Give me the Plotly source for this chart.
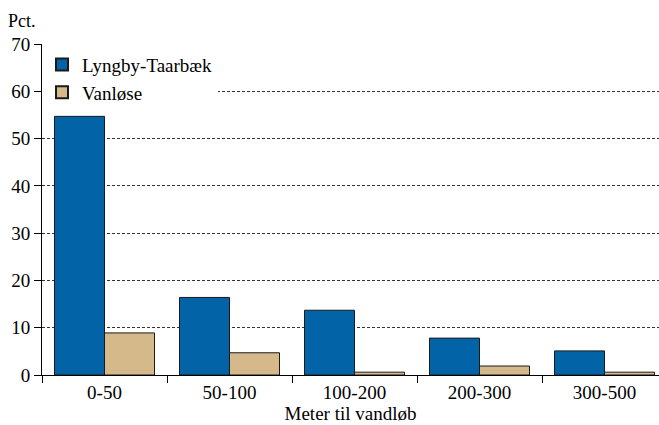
import plotly.graph_objects as go

categories = ["0-50", "50-100", "100-200", "200-300", "300-500"]
lyngby = [54.7, 16.4, 13.7, 7.8, 5.1]
vanlose = [8.9, 4.7, 0.6, 1.9, 0.6]
y_ticks = [0, 10, 20, 30, 40, 50, 60, 70]

FONT = "'Liberation Serif', 'Times New Roman', Times, 'DejaVu Serif', serif"

fig = go.Figure()
fig.add_trace(go.Bar(
    x=categories, y=lyngby, name="Lyngby-Taarbæk",
    marker=dict(color="#0263A6", line=dict(color="#1a1a1a", width=1)),
))
fig.add_trace(go.Bar(
    x=categories, y=vanlose, name="Vanløse",
    marker=dict(color="#D5B98A", line=dict(color="#1a1a1a", width=1)),
))

fig.update_layout(
    width=659, height=425,
    margin=dict(l=42, r=0, t=44, b=50),
    paper_bgcolor="white", plot_bgcolor="white",
    font=dict(family=FONT, size=19, color="black"),
    barmode="group", bargap=0.2, bargroupgap=0,
    showlegend=True,
    legend=dict(
        x=0.0, y=0.995, xanchor="left", yanchor="top",
        bgcolor="white", borderwidth=0,
        font=dict(family=FONT, size=19),
        tracegroupgap=0, itemsizing="constant",
    ),
    xaxis=dict(
        type="category", range=[-0.5, 4.436],
        showline=True, linecolor="black", linewidth=1,
        ticks="outside", tickson="boundaries", ticklen=7, tickcolor="black",
        showgrid=False, zeroline=False,
        tickfont=dict(family=FONT, size=19),
        title=dict(text="Meter til vandløb", font=dict(family=FONT, size=19), standoff=3),
    ),
    yaxis=dict(
        range=[0, 70], tickvals=y_ticks,
        showline=True, linecolor="black", linewidth=1,
        ticks="outside", ticklen=7, tickcolor="black",
        showgrid=True, gridcolor="#333333", griddash="3px,2px", gridwidth=1,
        zeroline=False,
        tickfont=dict(family=FONT, size=19),
    ),
    annotations=[dict(
        text="Pct.", xref="paper", yref="paper", x=-0.058, y=1.0,
        xanchor="left", yanchor="bottom", showarrow=False, yshift=11,
        font=dict(family=FONT, size=18),
    )],
)

fig.write_html("out.html", config={"displayModeBar": False},
               post_script="document.body.style.margin='0';document.body.style.padding='0';")
